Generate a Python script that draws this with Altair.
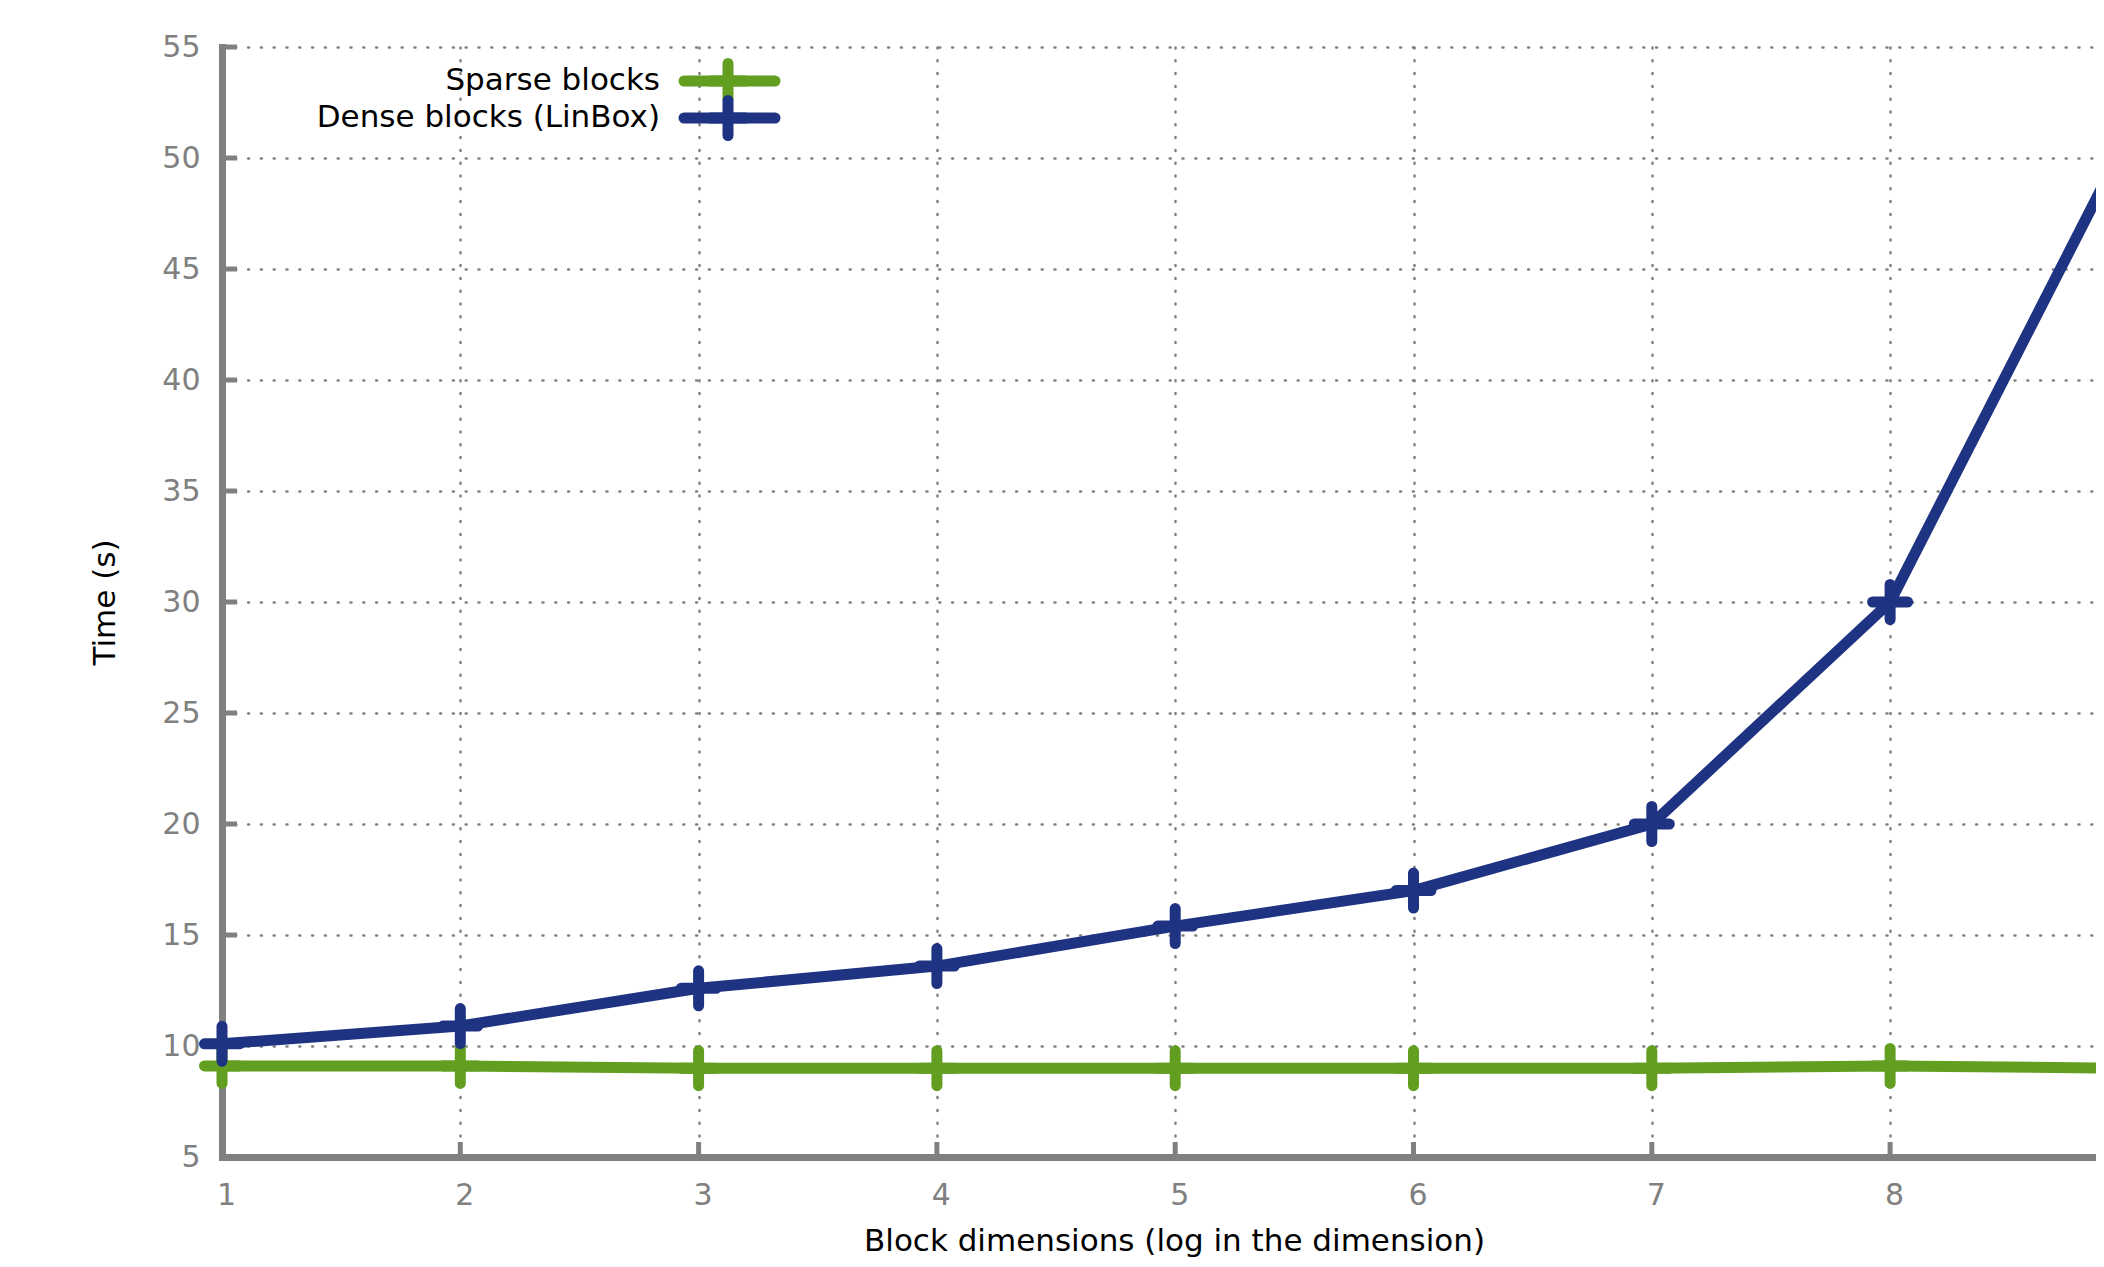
import altair as alt
import pandas as pd

# ---- data ----
x_values = [1, 2, 3, 4, 5, 6, 7, 8, 9]
sparse_times = [9.1, 9.1, 9.0, 9.0, 9.0, 9.0, 9.0, 9.1, 9.0]
dense_times = [10.1, 10.9, 12.6, 13.6, 15.4, 17.0, 20.0, 30.0, 51.0]
series_names = ["Sparse blocks", "Dense blocks (LinBox)"]
series_colors = ["#629f20", "#1f3383"]
x_ticks = [1, 2, 3, 4, 5, 6, 7, 8]
y_ticks = [5, 10, 15, 20, 25, 30, 35, 40, 45, 50, 55]
x_title = "Block dimensions (log in the dimension)"
y_title = "Time (s)"

df = pd.DataFrame({
    "x": x_values * 2,
    "time": sparse_times + dense_times,
    "series": [series_names[0]] * len(x_values) + [series_names[1]] * len(x_values),
})

W, H = 1874, 1110
FONT = "DejaVu Sans"
GRAY = "#808080"
CROSS = "M0,-1V1M-1,0H1"

xscale = alt.Scale(domain=[1, 8.864], nice=False, zero=False)
yscale = alt.Scale(domain=[5, 55], nice=False, zero=False)
color = alt.Color("series:N", scale=alt.Scale(domain=series_names, range=series_colors), legend=None)

xaxis = alt.Axis(
    values=x_ticks, format="d", title=x_title, ticks=False, tickSize=0,
    labelPadding=47, labelBaseline="alphabetic", labelOffset=4, labelFlush=False,
    titleX=952, titleY=93, titleBaseline="alphabetic", titleAlign="center", titleAnchor="start",
)
yaxis = alt.Axis(
    values=y_ticks, format="d", title=y_title, ticks=False, tickSize=0,
    labelPadding=22, labelAlign="right", labelBaseline="middle", labelFlush=False,
    titleAngle=270, titleX=-108, titleY=555, titleBaseline="alphabetic", titleAlign="center", titleAnchor="start",
)

X = alt.X("x:Q", scale=xscale, axis=xaxis)
Y = alt.Y("time:Q", scale=yscale, axis=yaxis)

layers = []

# inward ticks
xt = alt.Chart(pd.DataFrame({"x": x_ticks})).mark_rule(color=GRAY, strokeWidth=5).encode(
    x=X, y=alt.value(H), y2=alt.value(H - 15)
)
yt = alt.Chart(pd.DataFrame({"time": y_ticks})).mark_rule(color=GRAY, strokeWidth=5).encode(
    y=Y, x=alt.value(0), x2=alt.value(15)
)
layers += [xt, yt]

legend_y = [34, 71]
for name, ly in zip(series_names, legend_y):
    base = alt.Chart(df).transform_filter(alt.datum.series == name)
    line = base.mark_line(strokeWidth=11, strokeCap="round", strokeJoin="round").encode(
        x=X, y=Y, color=color
    )
    pts = base.mark_point(shape=CROSS, size=1225, filled=False, strokeWidth=11,
                          strokeCap="round", opacity=1).encode(x=X, y=Y, color=color)
    ldf = pd.DataFrame({"series": [name]})
    leg_text = alt.Chart(ldf).mark_text(align="right", baseline="middle", fontSize=31,
                                        font=FONT, color="black").encode(
        text="series:N", x=alt.value(438), y=alt.value(ly)
    )
    leg_line = alt.Chart(ldf).mark_rule(strokeWidth=11, strokeCap="round").encode(
        x=alt.value(462), x2=alt.value(553), y=alt.value(ly), color=color
    )
    leg_pt = alt.Chart(ldf).mark_point(shape=CROSS, size=1225, filled=False, strokeWidth=11,
                                       strokeCap="round", opacity=1).encode(
        x=alt.value(506), y=alt.value(ly), color=color
    )
    layers += [line, pts, leg_text, leg_line, leg_pt]

chart = alt.layer(*layers).properties(
    width=W, height=H,
    autosize=alt.AutoSizeParams(type="none"),
    padding={"left": 214, "top": 39, "right": 0, "bottom": 102},
).configure_view(strokeWidth=0).configure_axis(
    labelFont=FONT, labelFontSize=30, labelColor=GRAY,
    titleFont=FONT, titleFontSize=31, titleColor="black", titleFontWeight="normal",
    domainColor=GRAY, domainWidth=7, domainCap="square",
    grid=True, gridColor=GRAY, gridWidth=2.5, gridDash=[1, 11.8], gridCap="round", gridOpacity=1,
)

chart.save("out.html", embed_options={"renderer": "svg", "actions": False})
